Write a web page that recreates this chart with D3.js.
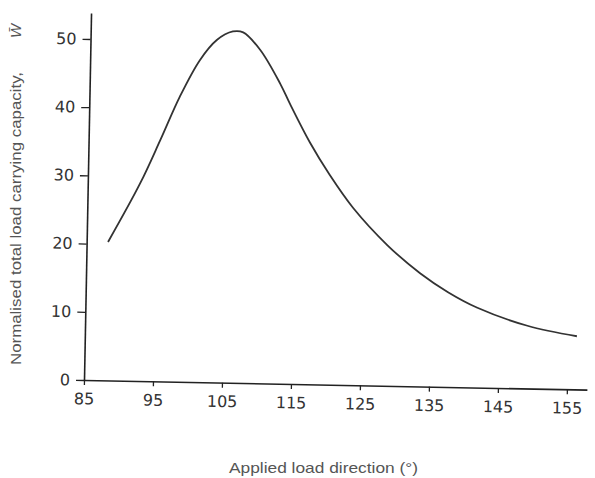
<!DOCTYPE html>
<html>
<head>
<meta charset="utf-8">
<script src="https://cdn.jsdelivr.net/npm/d3@7"></script>
<style>
  body { margin: 0; background: #fff; }
  svg { display: block; }
</style>
</head>
<body>
<div id="chart"></div>
<script>
// applied load direction (deg) vs normalised total load carrying capacity
let angle = [88.1, 92.6, 95.4, 98.1, 100.9, 103.3, 105.6, 107.1, 109.6, 112.6, 114.1, 117.1, 120.0, 123.5, 128.6, 133.4, 137.5, 141.8, 149.1, 156.3];
let load = [20.3, 29.0, 35.4, 41.8, 47.2, 50.2, 51.5, 51.4, 48.9, 44.0, 41.0, 35.4, 30.8, 26.0, 20.6, 16.6, 13.9, 11.7, 9.2, 7.8];
let xTicks = [85, 95, 105, 115, 125, 135, 145, 155];
let yTicks = [0, 10, 20, 30, 40, 50];

let W = 595, H = 478;
let svg = d3.select("#chart").append("svg")
  .attr("width", W).attr("height", H);

// the scanned figure is tilted a little, so the plot group is rotated
let g = svg.append("g")
  .attr("transform", "translate(84,380) rotate(1.1)");

let x = d3.scaleLinear().domain([85, 157.9]).range([0, 503]);
let y = d3.scaleLinear().domain([0, 53.8]).range([0, -367]);

let xAxis = g.append("g")
  .call(d3.axisBottom(x).tickValues(xTicks).tickSize(5).tickSizeOuter(0).tickPadding(8));
let yAxis = g.append("g")
  .call(d3.axisLeft(y).tickValues(yTicks).tickSize(8).tickSizeOuter(0).tickPadding(6));

[xAxis, yAxis].forEach(function(a) {
  a.select(".domain").attr("stroke", "#222").attr("stroke-width", 1.6);
  a.selectAll(".tick line").attr("stroke", "#222").attr("stroke-width", 1.3);
  a.selectAll(".tick text")
    .attr("fill", "#333")
    .style("font-family", "DejaVu Sans")
    .style("font-size", "16px");
});

let pts = angle.map(function(d, i) { return [d, load[i]]; });
let line = d3.line()
  .x(function(d) { return x(d[0]); })
  .y(function(d) { return y(d[1]); })
  .curve(d3.curveCatmullRom.alpha(0.5));

g.append("path")
  .datum(pts)
  .attr("d", line)
  .attr("fill", "none")
  .attr("stroke", "#333")
  .attr("stroke-width", 1.8);

// axis titles
svg.append("text")
  .attr("x", 229).attr("y", 473)
  .attr("textLength", 189)
  .attr("lengthAdjust", "spacingAndGlyphs")
  .attr("fill", "#555")
  .style("font-family", "Liberation Sans")
  .style("font-size", "15px")
  .text("Applied load direction (°)");

let yl = svg.append("text")
  .attr("transform", "translate(21,365) rotate(-90)")
  .attr("fill", "#555")
  .style("font-family", "Liberation Sans")
  .style("font-size", "15px");
yl.append("tspan")
  .attr("textLength", 293)
  .attr("lengthAdjust", "spacingAndGlyphs")
  .text("Normalised total load carrying capacity,");
yl.append("tspan").attr("x", 327).style("font-style", "italic").text("W\u0304");
</script>
</body>
</html>
